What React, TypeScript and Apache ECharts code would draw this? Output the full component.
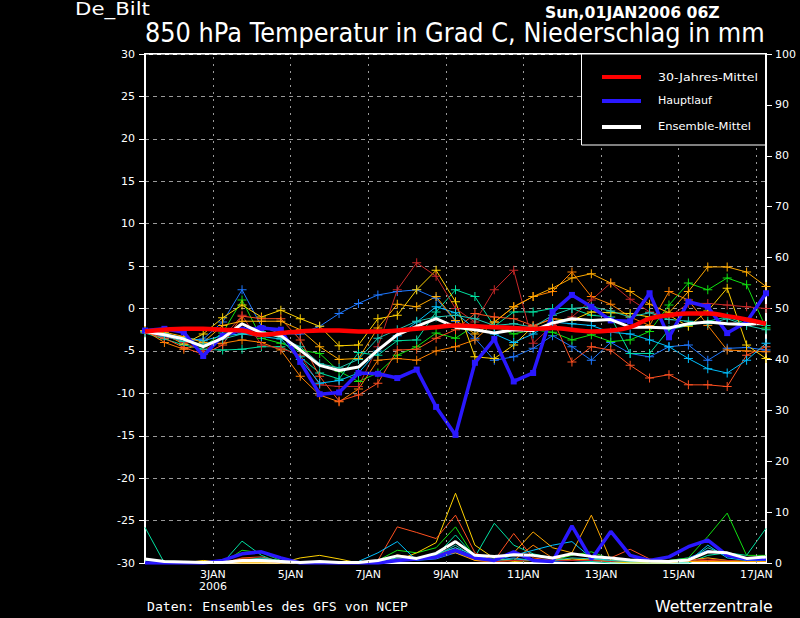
import React, { useEffect, useRef } from "react";
import * as echarts from "echarts";

// time axis: hours since 1 JAN 2006 00Z, one value every 12 h
const HOURS = [6, 18, 30, 42, 54, 66, 78, 90, 102, 114, 126, 138, 150, 162, 174, 186, 198, 210, 222, 234, 246, 258, 270, 282, 294, 306, 318, 330, 342, 354, 366, 378, 390];
const X_TICK_HOURS = [48, 96, 144, 192, 240, 288, 336, 384];
const X_TICK_LABELS = ["3JAN\n2006", "5JAN", "7JAN", "9JAN", "11JAN", "13JAN", "15JAN", "17JAN"];

// 850 hPa temperature (deg C)
const T_CLIMATE = [-2.7, -2.5, -2.4, -2.4, -2.5, -2.6, -3.1, -2.9, -2.7, -2.6, -2.6, -2.7, -2.7, -2.6, -2.4, -2.2, -2.0, -2.1, -2.2, -2.3, -2.4, -2.3, -2.5, -2.7, -2.6, -2.2, -1.2, -0.8, -0.6, -0.6, -0.9, -1.3, -1.8];
const T_MAIN = [-2.6, -2.4, -2.8, -5.6, -3.2, -2.5, -2.3, -2.5, -6.3, -10.1, -9.9, -7.6, -7.7, -8.2, -7.2, -11.6, -14.9, -6.4, -3.6, -8.6, -7.6, -0.4, 1.6, 0.2, -1.4, -1.5, 1.8, -3.4, 0.8, 0.2, -2.9, -1.6, 1.8];
const T_MEAN = [-2.7, -3.1, -3.6, -4.5, -3.5, -1.8, -2.9, -3.2, -4.9, -6.7, -7.3, -6.9, -4.9, -3.1, -2.1, -1.2, -2.2, -2.5, -2.9, -2.5, -2.6, -1.7, -1.2, -1.4, -1.3, -2.2, -2.2, -2.3, -1.8, -1.6, -1.8, -1.9, -1.7];

const T_M1 = [-2.8, -3.3, -3.9, -3.6, -1.6, 2.2, -2.1, -3.0, -3.0, -2.1, -0.6, 0.6, 1.6, 2.0, 2.2, 1.2, -1.5, -3.5, -6.1, -5.7, -4.7, -3.2, -4.5, -6.1, -4.0, -5.3, -5.7, -4.5, -4.3, -6.1, -4.7, -4.6, -4.9];
const T_M2 = [-2.7, -3.0, -3.5, -4.5, -2.9, 1.0, -3.5, -4.1, -4.9, -5.3, -7.4, -8.6, -7.6, -5.5, -4.5, -2.9, -3.5, -2.0, -2.1, -3.0, -2.5, -2.8, -3.7, -3.1, -3.9, -3.7, -2.7, 0.4, 3.0, 2.2, 3.6, 2.8, -2.3];
const T_M3 = [-2.9, -3.6, -4.3, -4.8, -4.9, -4.8, -4.5, -4.5, -5.7, -7.6, -8.3, -5.2, -5.5, -3.8, -3.7, -0.4, 2.2, 1.4, -2.1, -0.4, -0.4, 0.0, 0.0, -0.8, -1.0, -5.3, -5.3, -2.5, -2.0, -1.5, -1.0, -1.8, -2.0];
const T_M4 = [-2.6, -4.0, -4.8, -4.2, -4.1, -3.7, -4.0, -4.9, -8.0, -10.2, -11.0, -9.5, -6.1, -5.9, -6.1, -5.0, -4.5, -3.7, -1.6, 0.2, 1.4, 2.0, 4.3, 1.4, 0.5, -1.0, -2.0, 2.0, 1.0, -2.0, -4.9, -5.0, -5.1];
const T_M5 = [-2.6, -3.0, -4.2, -3.0, -1.1, 0.4, -1.0, -0.2, -1.2, -2.1, -4.4, -4.3, -1.2, -0.8, 2.2, 4.5, 0.8, -5.7, -5.9, -4.3, -2.1, -1.2, -1.4, -0.4, -0.5, -0.6, -1.0, -0.8, -2.1, -0.3, 2.4, -4.3, -5.9];
const T_M6 = [-2.8, -3.5, -4.6, -5.4, -4.3, -0.9, -1.2, -1.2, -3.7, -8.0, -10.9, -10.2, -8.8, -4.9, -4.8, -3.5, -2.5, -0.6, -1.0, -1.2, -2.0, -1.2, -6.3, -4.5, -4.9, -6.7, -8.2, -7.8, -9.0, -9.0, -9.2, -5.5, -4.5];
const T_M7 = [-2.7, -3.2, -4.0, -5.0, -3.5, -0.8, -4.3, -4.7, -5.5, -9.0, -9.2, -9.2, -4.5, 2.2, 5.4, 3.8, 0.0, -1.6, 2.2, 4.5, -4.1, -2.0, -1.0, 1.0, 3.0, 1.1, -0.4, -1.0, 0.6, 0.6, 0.4, 0.2, 0.0];
const T_M8 = [-2.7, -3.0, -3.4, -3.8, -3.2, -3.0, -3.3, -3.6, -6.0, -8.8, -8.5, -7.6, -5.0, -3.2, -1.6, 0.2, -0.5, -2.4, -3.0, -4.0, -3.0, -1.6, -1.8, -2.0, -2.8, -3.0, -3.7, -4.5, -5.9, -7.1, -7.6, -6.1, -4.1];
const T_M9 = [-2.6, -2.8, -3.3, -4.0, -2.0, -1.5, -1.5, -1.5, -2.5, -4.5, -6.0, -5.9, -2.3, 0.5, 0.2, 1.4, -1.4, -3.0, -1.6, 0.2, 1.4, 2.4, 3.6, 4.1, 3.0, 2.0, 0.5, -0.5, 2.0, 4.9, 4.9, 4.3, 2.6];
const T_M10 = [-2.7, -3.2, -3.9, -4.2, -3.6, -3.0, -2.7, -3.5, -4.5, -6.5, -7.0, -6.0, -3.5, -2.5, -1.5, -1.0, -0.8, -1.2, -2.0, -1.8, -2.2, -0.8, 0.0, 0.2, -0.3, -1.0, -0.5, -1.3, -1.5, -1.8, -1.2, -2.0, -2.5];

// precipitation (mm per 12 h)
const P_MAIN = [0, 0, 0, 0, 0.5, 1.8, 2.2, 1.0, 0, 0, 0, 0, 0, 0.5, 0.8, 1.2, 2.5, 1.0, 0.5, 2.2, 0.5, 0.3, 7.3, 0.7, 6.2, 1.5, 0.5, 1.2, 3.2, 4.5, 1.5, 0.8, 0.8];
const P_MEAN = [0.8, 0.3, 0.2, 0.1, 0.1, 0.5, 0.5, 0.3, 0.1, 0.3, 0.1, 0.1, 0.5, 1.4, 0.9, 1.9, 4.2, 1.5, 1.3, 1.6, 1.5, 1.0, 1.8, 1.3, 1.0, 0.6, 0.4, 0.3, 0.6, 2.2, 2.0, 0.9, 1.2];
const P_M1 = [0, 0, 0, 0, 0, 0.5, 0.5, 0.3, 0, 0, 0, 0, 0.3, 0.8, 0.5, 0.8, 2.0, 0.8, 0.5, 1.0, 0.5, 0.3, 0.5, 0.3, 0.3, 0.3, 0.3, 0.5, 1.0, 2.5, 1.5, 0.5, 0.5];
const P_M2 = [0.5, 0.4, 0.2, 0, 0, 2.5, 2.0, 0.5, 0, 0, 0, 0, 0.5, 2.5, 2.0, 3.0, 7.1, 1.0, 0.8, 0.5, 0.5, 0.5, 1.5, 2.2, 0.8, 0.5, 0.3, 0.5, 1.0, 5.2, 9.8, 1.5, 1.5];
const P_M3 = [7.0, 0, 0, 0, 0, 4.3, 1.5, 0, 0, 0, 0, 0, 0, 0.5, 0.8, 1.5, 5.5, 1.2, 7.8, 3.5, 1.8, 1.0, 0.5, 0.3, 0, 0, 0, 0, 0, 1.5, 2.0, 1.5, 6.8];
const P_M4 = [0, 0, 0, 0, 0, 0.8, 0.8, 0.3, 0, 0, 0, 0, 0, 1.6, 1.0, 1.5, 3.0, 0.5, 0.3, 0.5, 3.5, 1.0, 0.5, 0.8, 0.3, 0.3, 0.3, 0.3, 0.3, 0.5, 0.3, 0.3, 0.3];
const P_M5 = [0, 0, 0, 0.5, 0.3, 0, 0, 0, 1.0, 1.5, 0.8, 0, 0, 0.5, 2.0, 4.0, 13.7, 3.5, 0.9, 0.3, 0.5, 0.5, 0.8, 0.5, 0.3, 0, 0, 0, 0.5, 1.0, 0.5, 0.3, 0.5];
const P_M6 = [0, 0, 0, 0, 0, 1.0, 1.2, 0.3, 0, 0, 0, 0, 0.5, 7.1, 6.0, 4.8, 9.4, 2.0, 0.5, 5.8, 1.0, 0.5, 0.5, 0.5, 1.0, 2.7, 0.8, 0.3, 0.3, 0.5, 0.3, 0.3, 0.3];
const P_M7 = [0, 0, 0, 0, 0, 0.5, 0.5, 0, 0, 0, 0, 0, 0, 0.5, 0.8, 1.0, 2.5, 0.5, 0.3, 0.5, 0.5, 0.5, 0.5, 0.5, 0.3, 0.3, 0.3, 0.3, 0.5, 0.8, 0.5, 0.3, 0.3];
const P_M8 = [0, 0, 0, 0, 0, 0.5, 0.8, 0.3, 0, 0, 0.3, 0.3, 2.0, 4.2, 0.5, 1.8, 3.0, 1.5, 0.5, 1.5, 2.5, 3.5, 4.2, 1.0, 0.5, 0.3, 0.3, 0.5, 0.3, 3.5, 1.0, 0.5, 0.5];
const P_M9 = [0, 0, 0.3, 0.3, 0, 0, 0, 0, 0, 0, 0, 0, 0, 0.8, 1.0, 1.5, 2.0, 0.5, 0.3, 2.0, 6.1, 3.0, 2.0, 9.4, 0.5, 0.3, 0.3, 0.3, 0.3, 0.3, 0.3, 0.3, 0.3];
const P_M10 = [0.5, 0.3, 0, 0, 0, 0.5, 1.0, 0.5, 0, 0, 0, 0, 0.3, 1.0, 0.8, 1.5, 3.5, 1.0, 0.5, 0.8, 0.5, 0.5, 1.0, 0.8, 0.5, 0.3, 0.3, 0.3, 0.5, 3.0, 1.5, 1.0, 1.0];

const MEMBER_COLORS = ["#1e78ff", "#10e010", "#00e0a0", "#ff8000", "#ffd200", "#ff5020", "#c82828", "#00c0ff", "#ffaa00", "#20c8b4"];
const MEMBER_T = [T_M1, T_M2, T_M3, T_M4, T_M5, T_M6, T_M7, T_M8, T_M9, T_M10];
const MEMBER_P = [P_M1, P_M2, P_M3, P_M4, P_M5, P_M6, P_M7, P_M8, P_M9, P_M10];

const COL_CLIMATE = "#ff0000";
const COL_MAIN = "#2a18ff";
const COL_MEAN = "#ffffff";

const PLUS = "path://M4,0H5V4H9V5H5V9H4V5H0V4H4Z";

const pairs = (vals: number[]) => HOURS.map((h, i) => [h, vals[i]]);

function fit(text: string, font: string, target: number) {
  try {
    const ctx = document.createElement("canvas").getContext("2d");
    if (!ctx) return 1;
    ctx.font = font;
    const w = ctx.measureText(text).width;
    return w > 0 ? target / w : 1;
  } catch (e) {
    return 1;
  }
}

function txt(text: string, x: number, y: number, size: number, family: string, target: number, weight = "normal") {
  const font = `${weight} ${size}px ${family}`;
  return {
    type: "text",
    x,
    y,
    scaleX: fit(text, font, target),
    z: 100,
    style: {
      text,
      fill: "#ffffff",
      fontSize: size,
      fontFamily: family,
      fontWeight: weight,
      textAlign: "left",
      textVerticalAlign: "middle",
    },
  };
}

export default function App() {
  const ref = useRef<HTMLDivElement>(null);

  useEffect(() => {
    if (!ref.current) return;
    const chart = echarts.init(ref.current, null, { renderer: "svg" });
    const FONT = '"DejaVu Sans"';
    const MONO = '"DejaVu Sans Mono"';

    const series: any[] = [];
    // vertical grid lines via markLine on an empty series
    series.push({
      type: "line",
      data: [],
      xAxisIndex: 0,
      yAxisIndex: 0,
      markLine: {
        silent: true,
        symbol: "none",
        label: { show: false },
        lineStyle: { color: "#9a9a9a", type: [2, 5], width: 1 },
        data: X_TICK_HOURS.map((h) => ({ xAxis: h })),
      },
    });

    MEMBER_P.forEach((p, k) => {
      series.push({
        type: "line",
        yAxisIndex: 1,
        data: pairs(p),
        showSymbol: false,
        lineStyle: { color: MEMBER_COLORS[k], width: 1 },
        itemStyle: { color: MEMBER_COLORS[k] },
        z: 2,
      });
    });
    series.push({ type: "line", yAxisIndex: 1, data: pairs(P_MAIN), showSymbol: false, lineStyle: { color: COL_MAIN, width: 3.5 }, z: 3 });
    series.push({ type: "line", yAxisIndex: 1, data: pairs(P_MEAN), showSymbol: false, lineStyle: { color: COL_MEAN, width: 3 }, z: 4 });

    MEMBER_T.forEach((t, k) => {
      series.push({
        type: "line",
        yAxisIndex: 0,
        data: pairs(t),
        symbol: PLUS,
        symbolSize: 9,
        showSymbol: true,
        lineStyle: { color: MEMBER_COLORS[k], width: 1 },
        itemStyle: { color: MEMBER_COLORS[k], borderWidth: 0 },
        z: 2,
      });
    });
    series.push({
      type: "line",
      yAxisIndex: 0,
      data: pairs(T_MAIN),
      symbol: "rect",
      symbolSize: 6,
      lineStyle: { color: COL_MAIN, width: 3.5 },
      itemStyle: { color: COL_MAIN, borderWidth: 0 },
      z: 3,
    });
    series.push({ type: "line", yAxisIndex: 0, data: pairs(T_MEAN), showSymbol: false, lineStyle: { color: COL_MEAN, width: 3 }, z: 4 });
    series.push({ type: "line", yAxisIndex: 0, data: pairs(T_CLIMATE), smooth: true, showSymbol: false, lineStyle: { color: COL_CLIMATE, width: 4.5 }, z: 5 });

    const option: any = {
      animation: false,
      backgroundColor: "#000000",
      grid: { left: 145, right: 34, top: 54, bottom: 55, show: true, borderColor: "#ffffff", borderWidth: 2, backgroundColor: "transparent" },
      xAxis: {
        type: "value",
        min: 6,
        max: 390,
        axisLine: { onZero: false, lineStyle: { color: "#ffffff", width: 2 } },
        axisTick: { show: false },
        splitLine: { show: false },
        axisLabel: {
          customValues: X_TICK_HOURS,
          color: "#ffffff",
          fontFamily: FONT,
          fontSize: 11,
          lineHeight: 12,
          margin: 5,
          formatter: (v: number) => {
            const i = X_TICK_HOURS.indexOf(v);
            return i >= 0 ? X_TICK_LABELS[i] : "";
          },
        },
      },
      yAxis: [
        {
          type: "value",
          min: -30,
          max: 30,
          interval: 5,
          position: "left",
          axisLine: { show: true, onZero: false, lineStyle: { color: "#ffffff", width: 2 } },
          axisTick: { show: true, length: 6, lineStyle: { color: "#ffffff", width: 1 } },
          axisLabel: { color: "#ffffff", fontFamily: FONT, fontSize: 11, margin: 10 },
          splitLine: { show: true, lineStyle: { color: "#9a9a9a", type: [4, 4], width: 1 } },
        },
        {
          type: "value",
          min: 0,
          max: 100,
          interval: 10,
          position: "right",
          axisLine: { show: true, onZero: false, lineStyle: { color: "#ffffff", width: 2 } },
          axisTick: { show: true, length: 6, lineStyle: { color: "#ffffff", width: 1 } },
          axisLabel: { color: "#ffffff", fontFamily: FONT, fontSize: 11, margin: 9 },
          splitLine: { show: false },
        },
      ],
      graphic: [
        txt("De_Bilt", 75, 9, 18, FONT, 75),
        txt("Sun,01JAN2006 06Z", 545, 12, 16, FONT, 175, "bold"),
        txt("850 hPa Temperatur in Grad C, Niederschlag in mm", 145, 33, 26, FONT, 620),
        txt("Daten: Ensembles des GFS von NCEP", 147, 607, 13, MONO, 261),
        txt("Wetterzentrale", 655, 607, 15, FONT, 118),
        {
          type: "rect",
          z: 99,
          shape: { x: 581.5, y: 54, width: 184, height: 91 },
          style: { fill: "#000000", stroke: "#ffffff", lineWidth: 1 },
        },
        { type: "line", z: 100, shape: { x1: 602, y1: 77, x2: 641, y2: 77 }, style: { stroke: COL_CLIMATE, lineWidth: 4 } },
        { type: "line", z: 100, shape: { x1: 602, y1: 101, x2: 641, y2: 101 }, style: { stroke: COL_MAIN, lineWidth: 4 } },
        { type: "line", z: 100, shape: { x1: 602, y1: 127, x2: 641, y2: 127 }, style: { stroke: COL_MEAN, lineWidth: 4 } },
        txt("30-Jahres-Mittel", 658, 77, 11, FONT, 100),
        txt("Hauptlauf", 658, 101, 11, FONT, 54),
        txt("Ensemble-Mittel", 658, 127, 11, FONT, 93),
      ],
      series,
    };
    chart.setOption(option);
    return () => chart.dispose();
  }, []);

  return (
    <div
      ref={ref}
      style={{ position: "fixed", left: 0, top: 0, width: 800, height: 618, background: "#000" }}
    />
  );
}
